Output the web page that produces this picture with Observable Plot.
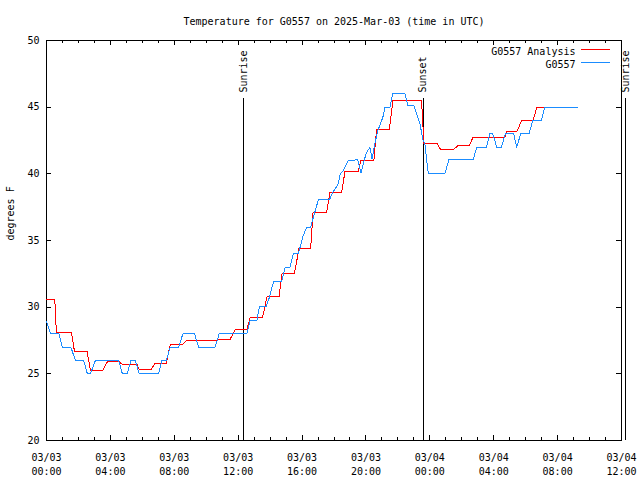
<!DOCTYPE html>
<html><head><meta charset="utf-8">
<script src="https://cdn.jsdelivr.net/npm/d3@7"></script>
<script src="https://cdn.jsdelivr.net/npm/@observablehq/plot@0.6"></script>
<style>html,body{margin:0;padding:0;background:#fff} #chart svg{display:block}</style>
</head><body><div id="chart"></div>
<script>
const title = "Temperature for G0557 on 2025-Mar-03 (time in UTC)";
const yLabel = "degrees F";
const seriesNames = ["G0557 Analysis", "G0557"];
const seriesColors = ["#ff0000", "#1a8cff"];

// hours since 03/03 00:00 UTC
const analysisHours = [0,0.52,0.62,1.56,1.75,2.54,2.75,3.52,3.81,4.56,4.75,5.67,5.81,6.54,6.81,7.5,7.75,8.5,8.75,10.6,10.81,11.5,11.81,12.54,12.75,13.52,13.81,14.56,14.75,15.52,15.81,16.54,16.69,17.54,17.75,18.48,18.69,19.52,19.69,20.5,20.66,21.46,21.69,23.48,23.63,24.46,24.69,25.46,25.75,26.46,26.69,28.69,28.81,29.46,29.75,30.46,30.69,31.46];
const analysisTemps = [30.55,30.55,28.1,28.1,26.7,26.7,25.25,25.25,25.9,25.9,25.7,25.7,25.3,25.3,25.8,25.8,27.2,27.2,27.5,27.5,27.6,27.6,28.3,28.3,29.2,29.2,30.8,30.8,32.5,32.5,34.4,34.4,37.1,37.1,38.6,38.6,40.2,40.2,41,41,43.3,43.3,45.5,45.5,42.25,42.25,41.8,41.8,42.1,42.1,42.7,42.7,43.2,43.2,44,44,44.95,44.95];

const obsHours = [0,0.25,0.77,1.0,1.54,1.81,2.33,2.56,2.75,3.06,4.52,4.75,5.06,5.28,5.56,5.81,7.02,7.23,7.5,7.75,8.27,8.54,9.27,9.52,10.56,10.81,12.54,12.75,13.17,13.33,13.75,13.96,14.11,14.25,14.73,14.94,15.25,15.46,15.77,16.04,16.29,16.54,16.71,17.02,17.71,17.92,18.27,18.38,18.58,18.89,19.48,19.69,20.0,20.25,20.38,20.56,20.75,21.06,21.19,21.5,21.67,22.44,22.63,23.0,23.38,23.56,23.69,23.88,23.94,24.94,25.19,26.71,26.94,27.54,27.75,27.94,28.19,28.48,28.73,29.25,29.44,29.69,30.21,30.44,30.98,31.19,33.23];
const obsTemps = [28.9,28.05,28.05,26.95,26.95,26,26,25,25,26,26,25,25,26,26,25,25,26,26,27,27,28,28,27,27,28,28,29,29,30.05,30.05,30.75,31.5,31.95,31.95,33,33,34,34,35.25,36,36,36.75,38.05,38.05,38.6,39.25,39.95,40.25,41,41.05,40.05,41.5,42,41.1,42.3,43.25,44.25,45,45,46,46,45.1,45.1,43.75,42.6,42.25,40.25,40,40,41.05,41.05,42,42,43,43,42,42,43,43,42,43,43,44,44,45,45];

const xTickHours = [0,4,8,12,16,20,24,28,32,36];
const xTickLabels = ["03/03\n00:00","03/03\n04:00","03/03\n08:00","03/03\n12:00","03/03\n16:00","03/03\n20:00","03/04\n00:00","03/04\n04:00","03/04\n08:00","03/04\n12:00"];
const xMinorHours = [1,2,3,5,6,7,9,10,11,13,14,15,17,18,19,21,22,23,25,26,27,29,30,31,33,34,35];
const yTicks = [20,25,30,35,40,45,50];

const eventNames = ["Sunrise","Sunset","Sunrise"];
const eventHours = [12.33, 23.58, 36.25];

const analysis = analysisHours.map((h,i)=>({h, t: analysisTemps[i]}));
const obs = obsHours.map((h,i)=>({h, t: obsTemps[i]}));
const events = eventNames.map((name,i)=>({name, h: eventHours[i]}));

const font = "'DejaVu Sans Mono', monospace";
const frameH = 400, frameW = 575;

const plot = Plot.plot({
  width: 640, height: 480,
  marginLeft: 46, marginRight: 19, marginTop: 40, marginBottom: 40,
  x: {domain: [0, 36]},
  y: {domain: [20, 50]},
  style: {fontFamily: font, fontSize: "10px", color: "black", background: "white", overflow: "visible"},
  marks: [
    Plot.frame({stroke: "black"}),
    // ticks (inward, mirrored)
    Plot.ruleX(xMinorHours, {x: d=>d, insetTop: frameH-3, stroke: "black"}),
    Plot.ruleX(xTickHours, {x: d=>d, insetTop: frameH-5, stroke: "black"}),
    Plot.ruleX(xMinorHours, {x: d=>d, insetBottom: frameH-3, stroke: "black"}),
    Plot.ruleX(xTickHours, {x: d=>d, insetBottom: frameH-5, stroke: "black"}),
    Plot.ruleY(yTicks, {y: d=>d, insetRight: frameW-5, stroke: "black"}),
    Plot.ruleY(yTicks, {y: d=>d, insetLeft: frameW-5, stroke: "black"}),
    Plot.axisX(xTickHours, {tickSize: 0, tickPadding: 10, label: null, lineHeight: 1.45,
      tickFormat: d => xTickLabels[xTickHours.indexOf(d)]}),
    Plot.axisY(yTicks, {tickSize: 0, tickPadding: 7, label: null}),
    // sunrise / sunset
    Plot.ruleX(events, {x: "h", insetTop: 58, stroke: "black"}),
    Plot.text(events, {x: "h", text: "name", frameAnchor: "top", dy: 52, rotate: -90, textAnchor: "start", lineAnchor: "middle", fill: "black"}),
    // data
    Plot.line(analysis, {x: "h", y: "t", stroke: seriesColors[0], strokeWidth: 1}),
    Plot.line(obs, {x: "h", y: "t", stroke: seriesColors[1], strokeWidth: 1}),
    // titles
    Plot.text([title], {frameAnchor: "top", dy: -23, fill: "black"}),
    Plot.text([yLabel], {frameAnchor: "left", dx: -36, rotate: -90, fill: "black"}),
    // legend labels
    Plot.text([seriesNames[0]], {frameAnchor: "top-right", dx: -46, dy: 7, textAnchor: "end", fill: "black"}),
    Plot.text([seriesNames[1]], {frameAnchor: "top-right", dx: -46, dy: 20, textAnchor: "end", fill: "black"})
  ]
});
document.getElementById("chart").appendChild(plot);

// legend sample lines
const svg = d3.select(plot);
const right = 640 - 19;
seriesColors.forEach((c, i) => {
  svg.append("line")
    .attr("x1", right - 40).attr("x2", right - 11)
    .attr("y1", 40 + 9 + 13*i).attr("y2", 40 + 9 + 13*i)
    .attr("stroke", c).attr("stroke-width", 1);
});
svg.style("shape-rendering", "crispEdges");
</script>
</body></html>
